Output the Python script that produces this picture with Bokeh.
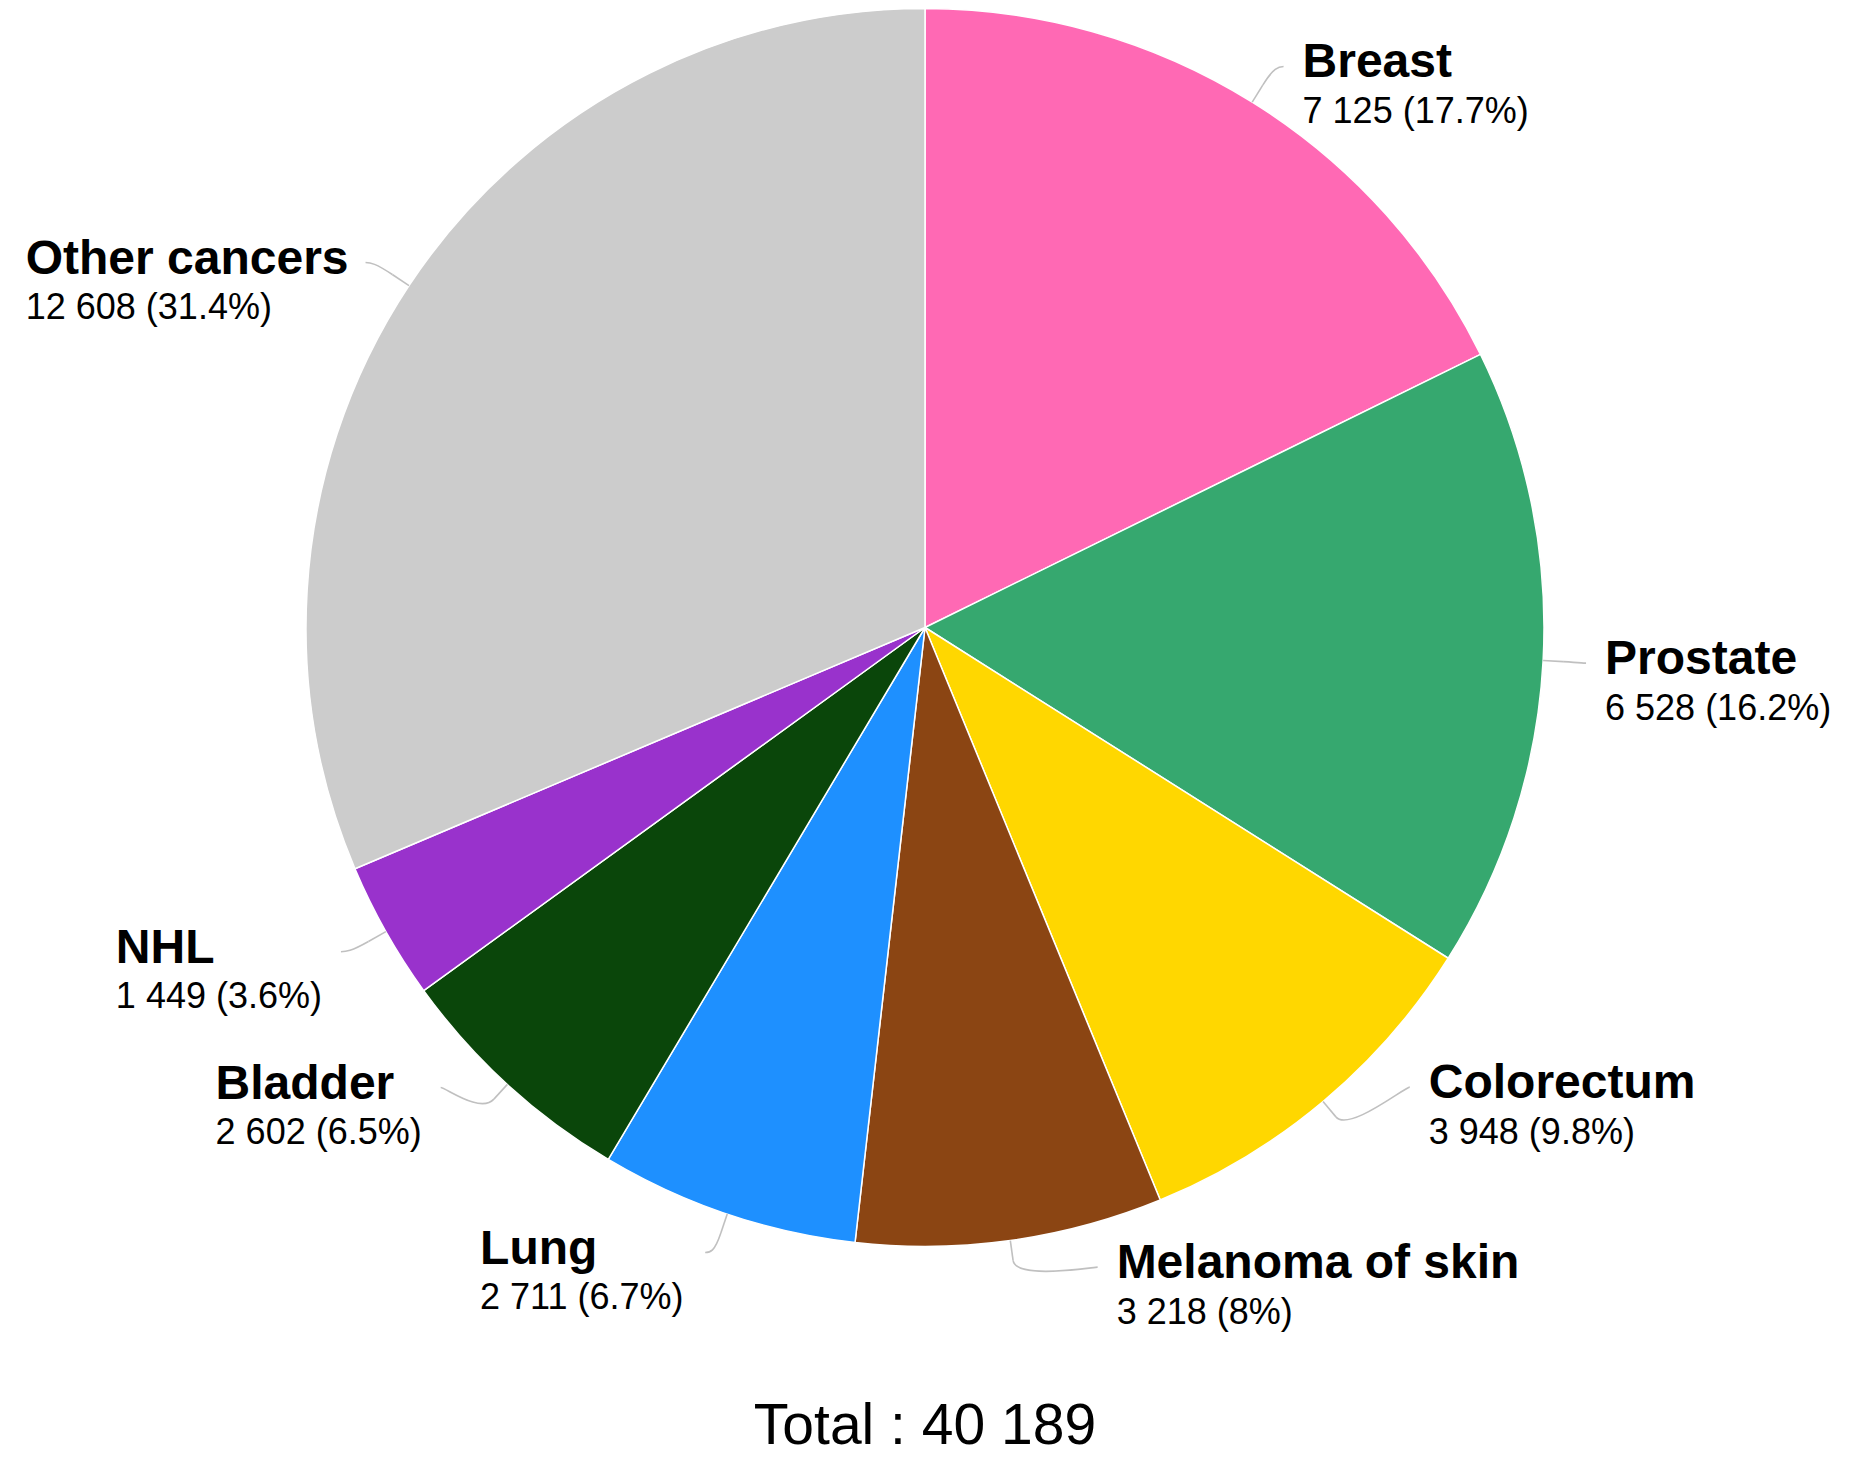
import math
from bokeh.plotting import figure
from bokeh.models import Range1d, ColumnDataSource
from bokeh.core.properties import value
from bokeh.embed import file_html
from bokeh.resources import INLINE

# ---------------- data ----------------
categories = ["Breast", "Prostate", "Colorectum", "Melanoma of skin",
              "Lung", "Bladder", "NHL", "Other cancers"]
counts = [7125, 6528, 3948, 3218, 2711, 2602, 1449, 12608]
colors = ["#FF69B4", "#36A86F", "#FFD700", "#8B4513",
          "#1E90FF", "#0A460A", "#9932CC", "#CCCCCC"]

# ---------------- layout (picture pixels) ----------------
W, H = 1833, 1459
CX, CY = 924.5, 627.0
RADIUS = 619
LABEL_R = 668
BREAK = 20
GAP = 19
NAME_SIZE = 48
VAL_SIZE = 36
TOTAL_SIZE = 57
TOTAL_BASELINE = 1445
BASELINE_FIX = 0.385          # bokeh draws alphabetic text lower by ~0.385 em
label_dy = [6, 0, -52, -22, -8, -33, -4, 4]
label_dx = [-4, -6, 0, -20, 16, 0, 0, 0]
text_dx = [0, 0, 0, 0, 0, 0, 0, 2]
FONT = "Liberation Sans"

# Arial / Liberation Sans advance widths (per 1000 em)
REG_W = {" ": 278, "(": 333, ")": 333, ".": 278, "%": 889}
for d in "0123456789":
    REG_W[d] = 556
BOLD_W = {" ": 278, "a": 556, "b": 611, "c": 556, "d": 611, "e": 556, "f": 333,
          "g": 611, "h": 611, "i": 278, "k": 556, "l": 278, "m": 889, "n": 611,
          "o": 611, "r": 389, "s": 556, "t": 333, "u": 611, "B": 722, "C": 722,
          "H": 722, "L": 611, "M": 833, "N": 722, "O": 778, "P": 667}


def text_width(s, table, size):
    return sum(table.get(ch, 556) for ch in s) * size / 1000.0


def fmt_int(v):
    return f"{v:,}".replace(",", " ")


def fmt_pct(v, total):
    s = f"{v / total * 100:.1f}"
    if "." in s:
        s = s.rstrip("0").rstrip(".")
    return s + "%"


def ty(y_baseline, size):
    """data y for a text whose alphabetic baseline should sit at picture row y_baseline"""
    return -(y_baseline - BASELINE_FIX * size)


total = sum(counts)

p = figure(width=W, height=H, output_backend="svg", toolbar_location=None,
           x_range=Range1d(0, W), y_range=Range1d(-H, 0), min_border=0)
p.axis.visible = False
p.grid.visible = False
p.outline_line_color = None
p.background_fill_color = "white"
p.border_fill_color = "white"

# ---------------- wedges ----------------
starts, ends, mids = [], [], []
cum = 0
for v in counts:
    a0 = 2 * math.pi * cum / total
    a1 = 2 * math.pi * (cum + v) / total
    starts.append(math.pi / 2 - a0)
    ends.append(math.pi / 2 - a1)
    mids.append((a0 + a1) / 2)
    cum += v

src = ColumnDataSource(dict(start=starts, end=ends, color=colors))
p.wedge(x=CX, y=-CY, radius=RADIUS, start_angle="start", end_angle="end",
        direction="clock", fill_color="color", line_color="white",
        line_width=1.5, source=src)

# ---------------- labels & connectors ----------------
seg = dict(x0=[], y0=[], x1=[], y1=[])
bez = dict(x0=[], y0=[], x1=[], y1=[], cx0=[], cy0=[], cx1=[], cy1=[])
names = dict(x=[], y=[], text=[])
vals = dict(x=[], y=[], text=[])

for i, (name, v, th) in enumerate(zip(categories, counts, mids)):
    s, c = math.sin(th), math.cos(th)
    right = s > 0
    sign = 1 if right else -1
    tx, tyy = CX + RADIUS * s, CY - RADIUS * c
    bx, by = CX + (RADIUS + BREAK) * s, CY - (RADIUS + BREAK) * c
    ey = CY - LABEL_R * c + label_dy[i]
    dyc = max(-LABEL_R, min(LABEL_R, ey - CY))
    ex = CX + sign * math.sqrt(LABEL_R ** 2 - dyc ** 2) + label_dx[i]

    seg["x0"].append(tx); seg["y0"].append(-tyy)
    seg["x1"].append(bx); seg["y1"].append(-by)
    bez["x0"].append(ex); bez["y0"].append(-ey)
    bez["cx0"].append(ex - sign * 5); bez["cy0"].append(-ey)
    bez["cx1"].append(2 * bx - tx); bez["cy1"].append(-(2 * by - tyy))
    bez["x1"].append(bx); bez["y1"].append(-by)

    vtxt = f"{fmt_int(v)} ({fmt_pct(v, total)})"
    if right:
        lx = ex + GAP
    else:
        w = max(text_width(name, BOLD_W, NAME_SIZE), text_width(vtxt, REG_W, VAL_SIZE))
        lx = ex - GAP - w
    lx += text_dx[i]
    names["x"].append(lx); names["y"].append(ty(ey + 13, NAME_SIZE)); names["text"].append(name)
    vals["x"].append(lx); vals["y"].append(ty(ey + 58, VAL_SIZE)); vals["text"].append(vtxt)

p.segment(x0="x0", y0="y0", x1="x1", y1="y1", source=ColumnDataSource(seg),
          line_color="#C0C0C0", line_width=1.6)
p.bezier(x0="x0", y0="y0", x1="x1", y1="y1", cx0="cx0", cy0="cy0", cx1="cx1", cy1="cy1",
         source=ColumnDataSource(bez), line_color="#C0C0C0", line_width=1.6)

p.text(x="x", y="y", text="text", source=ColumnDataSource(names),
       text_font=value(FONT), text_font_size=f"{NAME_SIZE}px", text_font_style="bold",
       text_color="black", text_align="left", text_baseline="alphabetic")
p.text(x="x", y="y", text="text", source=ColumnDataSource(vals),
       text_font=value(FONT), text_font_size=f"{VAL_SIZE}px",
       text_color="black", text_align="left", text_baseline="alphabetic")

# ---------------- total ----------------
p.text(x=[CX], y=[ty(TOTAL_BASELINE, TOTAL_SIZE)], text=[f"Total : {fmt_int(total)}"],
       text_font=value(FONT), text_font_size=f"{TOTAL_SIZE}px", text_color="black",
       text_align="center", text_baseline="alphabetic")

open("out.html", "w").write(file_html(p, INLINE))
